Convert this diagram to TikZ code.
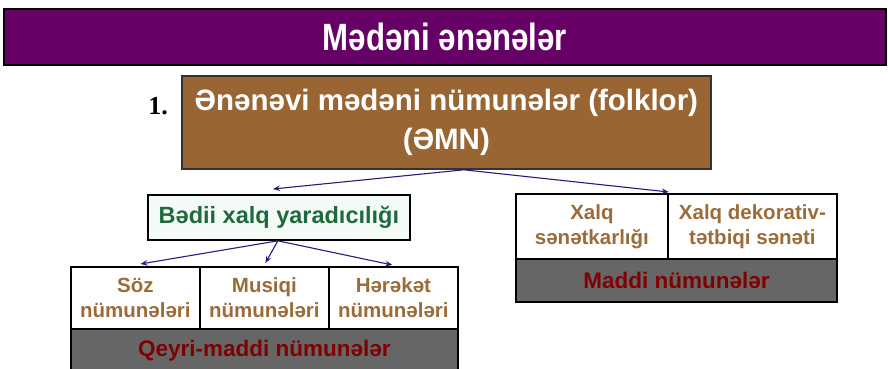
\documentclass[tikz,border=0pt]{standalone}
\usepackage{fontspec}
\usepackage{graphicx}
\setmainfont{Liberation Sans}
\newfontfamily\numfont{Liberation Serif}
\usetikzlibrary{arrows.meta}
\definecolor{titlepurple}{HTML}{660066}
\definecolor{mainbrown}{HTML}{996633}
\definecolor{celltext}{HTML}{9C6B3A}
\definecolor{darkgreen}{HTML}{1E6A3C}
\definecolor{lightgreen}{HTML}{F4FAF6}
\definecolor{rowgray}{HTML}{666666}
\definecolor{darkred}{HTML}{800000}
\definecolor{navy}{HTML}{1F1F80}
\begin{document}
\begin{tikzpicture}[x=1pt,y=-1pt,
  box/.style={draw=black, line width=1.8pt, anchor=north west, inner sep=0pt, align=center},
  cell/.style={box, fill=white, text=celltext, font=\bfseries\fontsize{20.5}{25}\selectfont},
  grayrow/.style={box, fill=rowgray, text=darkred, font=\bfseries\fontsize{22.5}{24}\selectfont},
  link/.style={draw=navy, line width=1.1pt, -{Stealth[length=7pt,width=5.5pt]}}
]
\useasboundingbox (0,0) rectangle (888,368);
\clip (0,0) rectangle (888,368);
% title bar
\node[box, fill=titlepurple, text=white, minimum width=882, minimum height=56,
  font=\bfseries\fontsize{38}{40}\selectfont] (title) at (3,8) {\scalebox{0.82}[1]{Mədəni ənənələr}};
% main box
\node[box, draw=black!80, fill=mainbrown, text=white, minimum width=529, minimum height=93,
  font=\bfseries\fontsize{29.5}{39}\selectfont] (main) at (181,75) {Ənənəvi mədəni nümunələr (folklor)\\(ƏMN)};
\node[anchor=center, font=\numfont\bfseries\fontsize{26}{28}\selectfont] (one) at (158,106) {1.};
% Bedii box
\node[box, fill=lightgreen, text=darkgreen, minimum width=262, minimum height=45,
  font=\bfseries\fontsize{23.5}{25}\selectfont] (bedii) at (147,194) {Bədii xalq yaradıcılığı};
% left table
\node[cell, minimum width=129, minimum height=62] (soz) at (70,266) {Söz\\nümunələri};
\node[cell, minimum width=129, minimum height=62] (musiqi) at (199,266) {Musiqi\\nümunələri};
\node[cell, minimum width=129, minimum height=62] (herekat) at (328,266) {Hərəkət\\nümunələri};
\node[grayrow, minimum width=387, minimum height=44] (qeyri) at (70,328) {Qeyri-maddi nümunələr};
% right table
\node[cell, minimum width=152, minimum height=65] (xalq1) at (515,193) {Xalq\\sənətkarlığı};
\node[cell, minimum width=169, minimum height=65] (xalq2) at (667,193) {Xalq dekorativ-\\tətbiqi sənəti};
\node[grayrow, minimum width=321, minimum height=43] (maddi) at (515,258) {Maddi nümunələr};
% connectors
\coordinate (mstart) at ([xshift=17.5pt]main.south);
\coordinate (bstart) at ([xshift=-1pt]bedii.south);
\draw[link] (mstart) -- ([xshift=-6pt,yshift=5pt]bedii.north);
\draw[link] (mstart) -- ([yshift=1pt]xalq1.north east);
\draw[link] (bstart) -- ([xshift=5pt,yshift=2pt]soz.north);
\draw[link] (bstart) -- ([xshift=1pt,yshift=3pt]musiqi.north);
\draw[link] (bstart) -- ([xshift=-1pt,yshift=1pt]herekat.north);
\end{tikzpicture}
\end{document}
